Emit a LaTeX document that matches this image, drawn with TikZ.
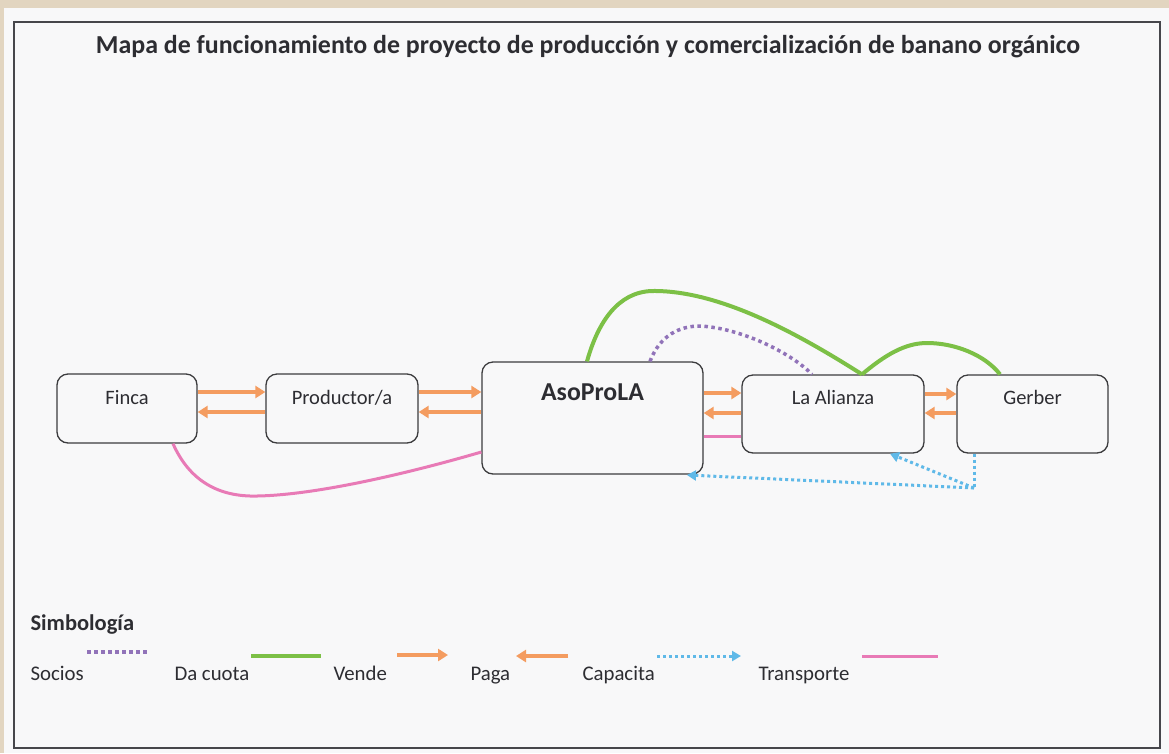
\documentclass[tikz,border=0pt]{standalone}
\usepackage{fontspec}
\setmainfont{Carlito}
\usetikzlibrary{arrows.meta}
\definecolor{beige}{RGB}{226,213,192}
\definecolor{paper}{RGB}{248,248,249}
\definecolor{framec}{RGB}{70,70,75}
\definecolor{boxc}{RGB}{60,60,62}
\definecolor{txt}{RGB}{45,45,50}
\definecolor{orangeA}{RGB}{244,156,96}
\definecolor{greenA}{RGB}{124,192,70}
\definecolor{purpleA}{RGB}{145,115,185}
\definecolor{blueA}{RGB}{95,185,232}
\definecolor{pinkA}{RGB}{232,122,182}
\begin{document}
\begin{tikzpicture}[x=1pt,y=-1pt,
  box/.style={draw=boxc, line width=1.3pt, rounded corners=11pt, inner sep=0pt},
  boxtxt/.style={font=\fontsize{20.5}{24}\selectfont, text=txt, anchor=center},
  paga/.style={orangeA, line width=4pt, -{Triangle[length=10pt,width=12pt]}},
  vende/.style={greenA, line width=4pt},
  socios/.style={purpleA, line width=3.5pt, dash pattern=on 3.5pt off 3.5pt},
  capacita/.style={blueA, line width=3pt, dash pattern=on 3pt off 3pt},
  capa/.style={capacita, -{Triangle[length=9pt,width=10pt]}},
  transp/.style={pinkA, line width=3pt},
  leg/.style={font=\fontsize{20.8}{24}\selectfont, text=txt, anchor=base west}
]
\useasboundingbox (0,0) rectangle (1169,753);
\fill[beige] (0,0) rectangle (1169,753);
\fill[paper] (4,8) rectangle (1169,753);
\draw[framec, line width=1.5pt] (14,22) rectangle (1160,748);

\node[font=\bfseries\fontsize{25.9}{30}\selectfont, text=txt] (title) at (588,47)
  {Mapa de funcionamiento de proyecto de producción y comercialización de banano orgánico};

% boxes
\node[box, minimum width=140pt, minimum height=69pt,
  label={[boxtxt, yshift=-24pt, name=tfin]north:Finca}] (fin) at (127,408.5) {};
\node[box, minimum width=152pt, minimum height=69pt,
  label={[boxtxt, yshift=-24pt, name=tprod]north:Productor/a}] (prod) at (342,408.5) {};
\node[box, minimum width=221pt, minimum height=112pt,
  label={[boxtxt, font=\bfseries\fontsize{25.8}{29}\selectfont, yshift=-31pt, name=taso]north:AsoProLA}] (aso) at (592.5,418) {};
\node[box, minimum width=182pt, minimum height=78pt,
  label={[boxtxt, yshift=-23pt, name=tali]north:La Alianza}] (ali) at (833,414) {};
\node[box, minimum width=151pt, minimum height=78pt,
  label={[boxtxt, yshift=-23pt, name=tger]north:Gerber}] (ger) at (1032.5,414) {};

% orange arrows
\draw[paga] (fin.east |- 0,392) -- (prod.west |- 0,392);
\draw[paga] (prod.west |- 0,412) -- (fin.east |- 0,412);
\draw[paga] (prod.east |- 0,392) -- (aso.west |- 0,392);
\draw[paga] (aso.west |- 0,412) -- (prod.east |- 0,412);
\draw[paga] (aso.east |- 0,393) -- (ali.west |- 0,393);
\draw[paga] (ali.west |- 0,413) -- (aso.east |- 0,413);
\draw[paga] (ali.east |- 0,394) -- (ger.west |- 0,394);
\draw[paga] (ger.west |- 0,413) -- (ali.east |- 0,413);

% pink transport
\draw[transp] (fin.south -| 173,0) .. controls (190,482) and (220,497) .. (257,496)
  .. controls (320,495) and (420,470) .. (aso.west |- 0,452);
\draw[transp] (aso.east |- 0,436) -- (ali.west |- 0,436);

% green (da cuota)
\draw[vende] (aso.north -| 587,0) .. controls (598,322) and (618,292) .. (652,291)
  .. controls (720,290) and (800,335) .. (ali.north -| 862,0);
\draw[vende] (ali.north -| 862,0) .. controls (885,355) and (905,343) .. (927,343)
  .. controls (955,343) and (985,355) .. (ger.north -| 1000,0);

% purple socios
\draw[socios] (aso.north -| 650,0) .. controls (660,335) and (680,326) .. (700,326)
  .. controls (740,328) and (790,352) .. (ali.north -| 812,0);

% blue capacita
\coordinate (bc) at (974,488);
\draw[capacita] (ger.south -| 974,0) -- (bc);
\draw[capa] (bc) -- (ali.south -| 890,0);
\draw[capa] (bc) -- (687,475);

% legend
\node[font=\bfseries\fontsize{22.5}{26}\selectfont, text=txt, anchor=base west] (simb) at (27,630) {Simbología};
\node[leg] (lsoc) at (27,680) {Socios};
\node[leg] (lcuo) at (171,680) {Da cuota};
\node[leg] (lven) at (330,680) {Vende};
\node[leg] (lpag) at (467,680) {Paga};
\node[leg] (lcap) at (579,680) {Capacita};
\node[leg] (ltra) at (755,680) {Transporte};
\coordinate (s1a) at (87,652); \coordinate (s1b) at (148,652);
\draw[socios] (s1a) -- (s1b);
\coordinate (s2a) at (251,656); \coordinate (s2b) at (321,656);
\draw[vende] (s2a) -- (s2b);
\coordinate (s3a) at (397,655); \coordinate (s3b) at (448,655);
\draw[paga] (s3a) -- (s3b);
\coordinate (s4a) at (568,656); \coordinate (s4b) at (516,656);
\draw[paga] (s4a) -- (s4b);
\coordinate (s5a) at (657,656); \coordinate (s5b) at (741,656);
\draw[capa] (s5a) -- (s5b);
\coordinate (s6a) at (862,656); \coordinate (s6b) at (938,656);
\draw[transp] (s6a) -- (s6b);
\end{tikzpicture}
\end{document}
